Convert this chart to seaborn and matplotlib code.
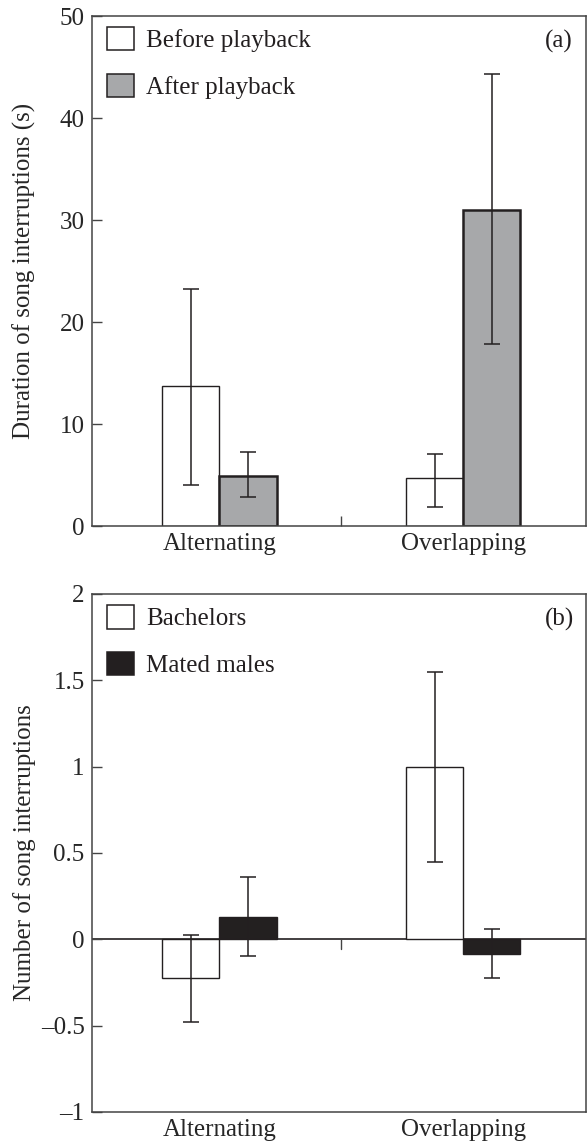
import matplotlib
matplotlib.use("Agg")
import matplotlib.pyplot as plt
import pandas as pd
import seaborn as sns
from matplotlib.patches import Patch

# Data (means with lower/upper error limits)
conditions = ["Alternating", "Overlapping"]

groups_a = ["Before playback", "After playback"]
means_a = {"Before playback": [13.7, 4.75], "After playback": [4.9, 31.0]}
lower_a = {"Before playback": [4.05, 1.9], "After playback": [2.8, 17.85]}
upper_a = {"Before playback": [23.25, 7.1], "After playback": [7.25, 44.3]}

groups_b = ["Bachelors", "Mated males"]
means_b = {"Bachelors": [-0.226, 1.0], "Mated males": [0.13, -0.084]}
lower_b = {"Bachelors": [-0.48, 0.45], "Mated males": [-0.097, -0.226]}
upper_b = {"Bachelors": [0.025, 1.55], "Mated males": [0.36, 0.062]}

yticks_a = [0, 10, 20, 30, 40, 50]
yticks_b = [-1, -0.5, 0, 0.5, 1, 1.5, 2]
yticklabels_b = ["\u20131", "\u20130.5", "0", "0.5", "1", "1.5", "2"]

sns.set_style("white")
plt.rcParams["font.family"] = ["Liberation Serif", "DejaVu Serif"]
plt.rcParams["text.color"] = "#231f20"

FS = 18
INK = "#231f20"
GRAY = "#a7a8aa"


def to_frame(groups, means, lower, upper):
    rows = []
    for g in groups:
        for i, c in enumerate(conditions):
            rows.append({"condition": c, "group": g, "value": means[g][i],
                         "lo": lower[g][i], "hi": upper[g][i]})
    return pd.DataFrame(rows)


def draw_panel(ax, df, groups, colors, edge_widths, tag, ylabel):
    sns.barplot(data=df, x="condition", y="value", hue="group", order=conditions,
                hue_order=groups, palette=colors, width=0.47, errorbar=None,
                edgecolor=INK, legend=False, ax=ax)
    # patches come out hue-major, same order as df rows
    for patch, (_, row) in zip(ax.patches, df.iterrows()):
        patch.set_linewidth(edge_widths[row["group"]])
        xc = patch.get_x() + patch.get_width() / 2
        ax.errorbar(xc, row["value"],
                    yerr=[[row["value"] - row["lo"]], [row["hi"] - row["value"]]],
                    fmt="none", ecolor=INK, elinewidth=1.1, capsize=5.8,
                    capthick=1.1, zorder=5)

    ax.set_xlim(-0.524, 1.503)
    ax.set_xlabel("")
    ax.set_ylabel(ylabel, fontsize=FS)
    ax.yaxis.set_label_coords(-0.112, 0.5)
    ax.tick_params(axis="x", length=0, labelsize=FS, pad=5)
    ax.tick_params(axis="y", left=True, direction="in", length=7, width=1.0,
                   color="#444444", labelsize=FS, pad=5)
    for s in ax.spines.values():
        s.set_color("#444444")
        s.set_linewidth(1.1)

    handles = [Patch(facecolor=colors[g], edgecolor=INK, linewidth=1.1) for g in groups]
    ax.legend(handles, groups, loc="upper left", bbox_to_anchor=(0.032, 0.978),
              frameon=False, fontsize=FS, handlelength=1.05, handleheight=1.05,
              handletextpad=0.5, labelspacing=0.85, borderpad=0, borderaxespad=0)
    ax.text(0.946, 0.95, tag, transform=ax.transAxes, ha="center", va="center",
            fontsize=FS)


fig = plt.figure(figsize=(5.87, 11.44), dpi=100)
ax_a = fig.add_axes([0.156, 0.5402, 0.842, 0.4458])
ax_b = fig.add_axes([0.156, 0.028, 0.842, 0.4528])

# (a) duration of song interruptions
df_a = to_frame(groups_a, means_a, lower_a, upper_a)
draw_panel(ax_a, df_a, groups_a, {"Before playback": "white", "After playback": GRAY},
           {"Before playback": 1.0, "After playback": 1.8}, "(a)",
           "Duration of song interruptions (s)")
ax_a.set_ylim(0, 50)
ax_a.set_yticks(yticks_a)
ax_a.set_xticks([0.5], minor=True)
ax_a.tick_params(axis="x", which="minor", bottom=True, direction="in", length=7,
                 width=1.0, color="#444444")

# (b) number of song interruptions
df_b = to_frame(groups_b, means_b, lower_b, upper_b)
draw_panel(ax_b, df_b, groups_b, {"Bachelors": "white", "Mated males": INK},
           {"Bachelors": 1.0, "Mated males": 1.0}, "(b)",
           "Number of song interruptions")
ax_b.set_ylim(-1, 2)
ax_b.set_yticks(yticks_b)
ax_b.set_yticklabels(yticklabels_b)
ax_b.axhline(0, color=INK, linewidth=1.2, zorder=0.5)
mid = (0 + len(conditions) - 1) / 2
ax_b.plot([mid, mid], [0, -0.055], color="#444444", linewidth=1.0)

fig.savefig("out.png", dpi=100)
